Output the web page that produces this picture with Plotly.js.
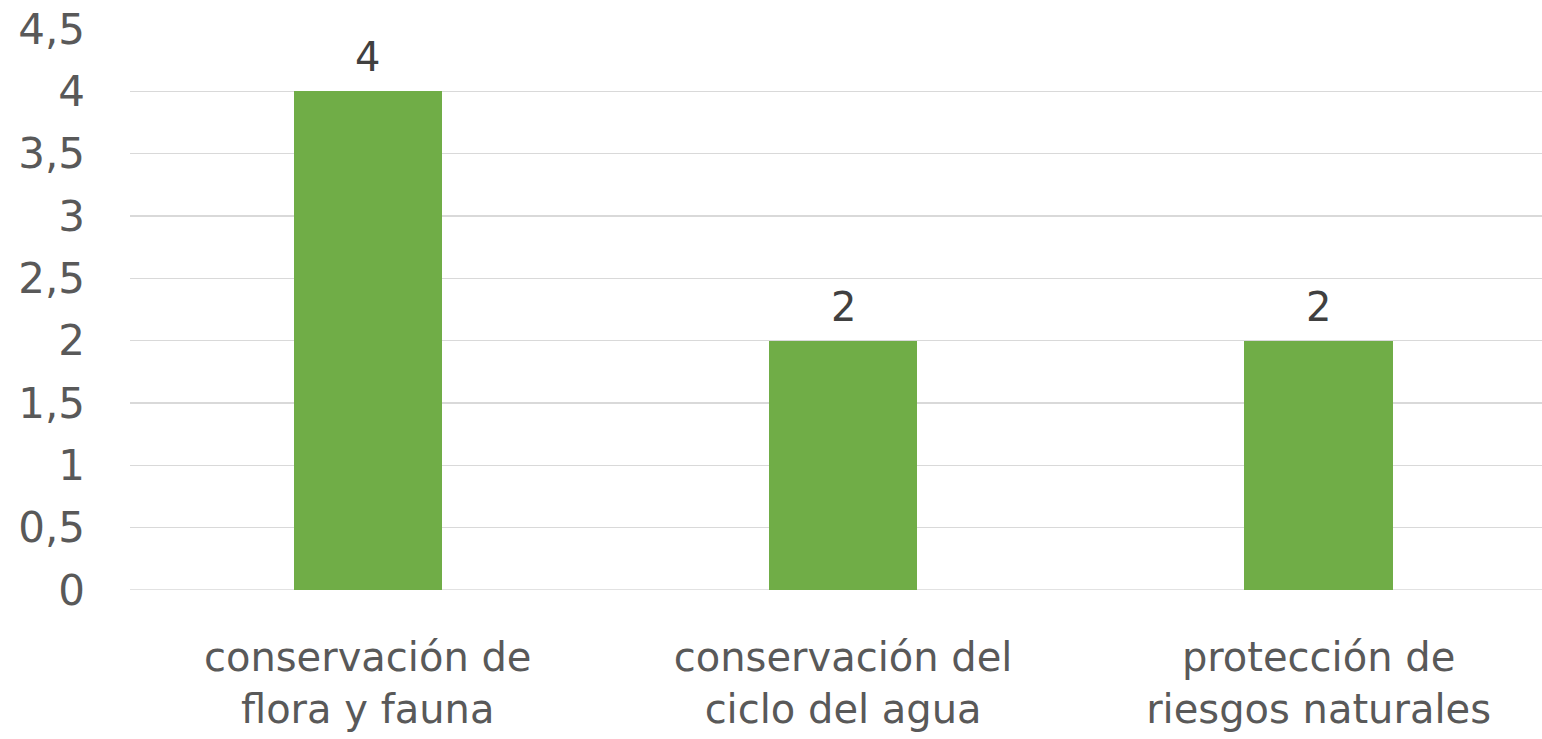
<!DOCTYPE html>
<html>
<head>
<meta charset="utf-8">
<script src="https://cdn.plot.ly/plotly-3.0.1.min.js"></script>
<style>html,body{margin:0;padding:0;background:#fff;}#chart{width:1542px;height:739px;}</style>
</head>
<body>
<div id="chart"></div>
<script>
const categories = ["conservación de<br>flora y fauna", "conservación del<br>ciclo del agua", "protección de<br>riesgos naturales"];
const values = [4, 2, 2];
const yTicks = [0, 0.5, 1, 1.5, 2, 2.5, 3, 3.5, 4, 4.5];

const FONT = "DejaVu Sans, sans-serif";

const trace = {
  type: "bar",
  x: categories,
  y: values,
  width: 0.312,
  marker: {color: "#70ad47", line: {width: 0}},
  hoverinfo: "skip"
};

const annotations = categories.map((c, i) => ({
  x: c, y: values[i], xref: "x", yref: "y",
  text: String(values[i]), showarrow: false,
  yanchor: "bottom", yshift: 9,
  font: {family: FONT, size: 40, color: "#404040"}
}));

const layout = {
  width: 1542, height: 739,
  margin: {l: 130, r: 0, t: 29, b: 149, pad: 0},
  paper_bgcolor: "#ffffff", plot_bgcolor: "#ffffff",
  separators: ",.",
  showlegend: false,
  bargap: 0,
  xaxis: {
    type: "category",
    range: [-0.5, 2.47],
    showgrid: false, zeroline: false, showline: false,
    ticks: "",
    ticklabelstandoff: 40,
    tickfont: {family: FONT, size: 40, color: "#595959"}
  },
  yaxis: {
    range: [0, 4.5],
    tickmode: "array", tickvals: yTicks,
    ticktext: yTicks.map(v => String(v).replace(".", ",")),
    showgrid: true, gridcolor: "#d9d9d9", gridwidth: 1.5,
    zeroline: false, showline: false,
    ticks: "",
    ticklabelstandoff: 44,
    tickfont: {family: FONT, size: 42, color: "#595959"}
  },
  shapes: [{type: "line", xref: "paper", yref: "y", x0: 0, x1: 1, y0: 0, y1: 0, line: {color: "#d9d9d9", width: 1.5}, layer: "below"}],
  annotations: annotations
};

Plotly.newPlot("chart", [trace], layout, {staticPlot: true, displayModeBar: false});
</script>
</body>
</html>
